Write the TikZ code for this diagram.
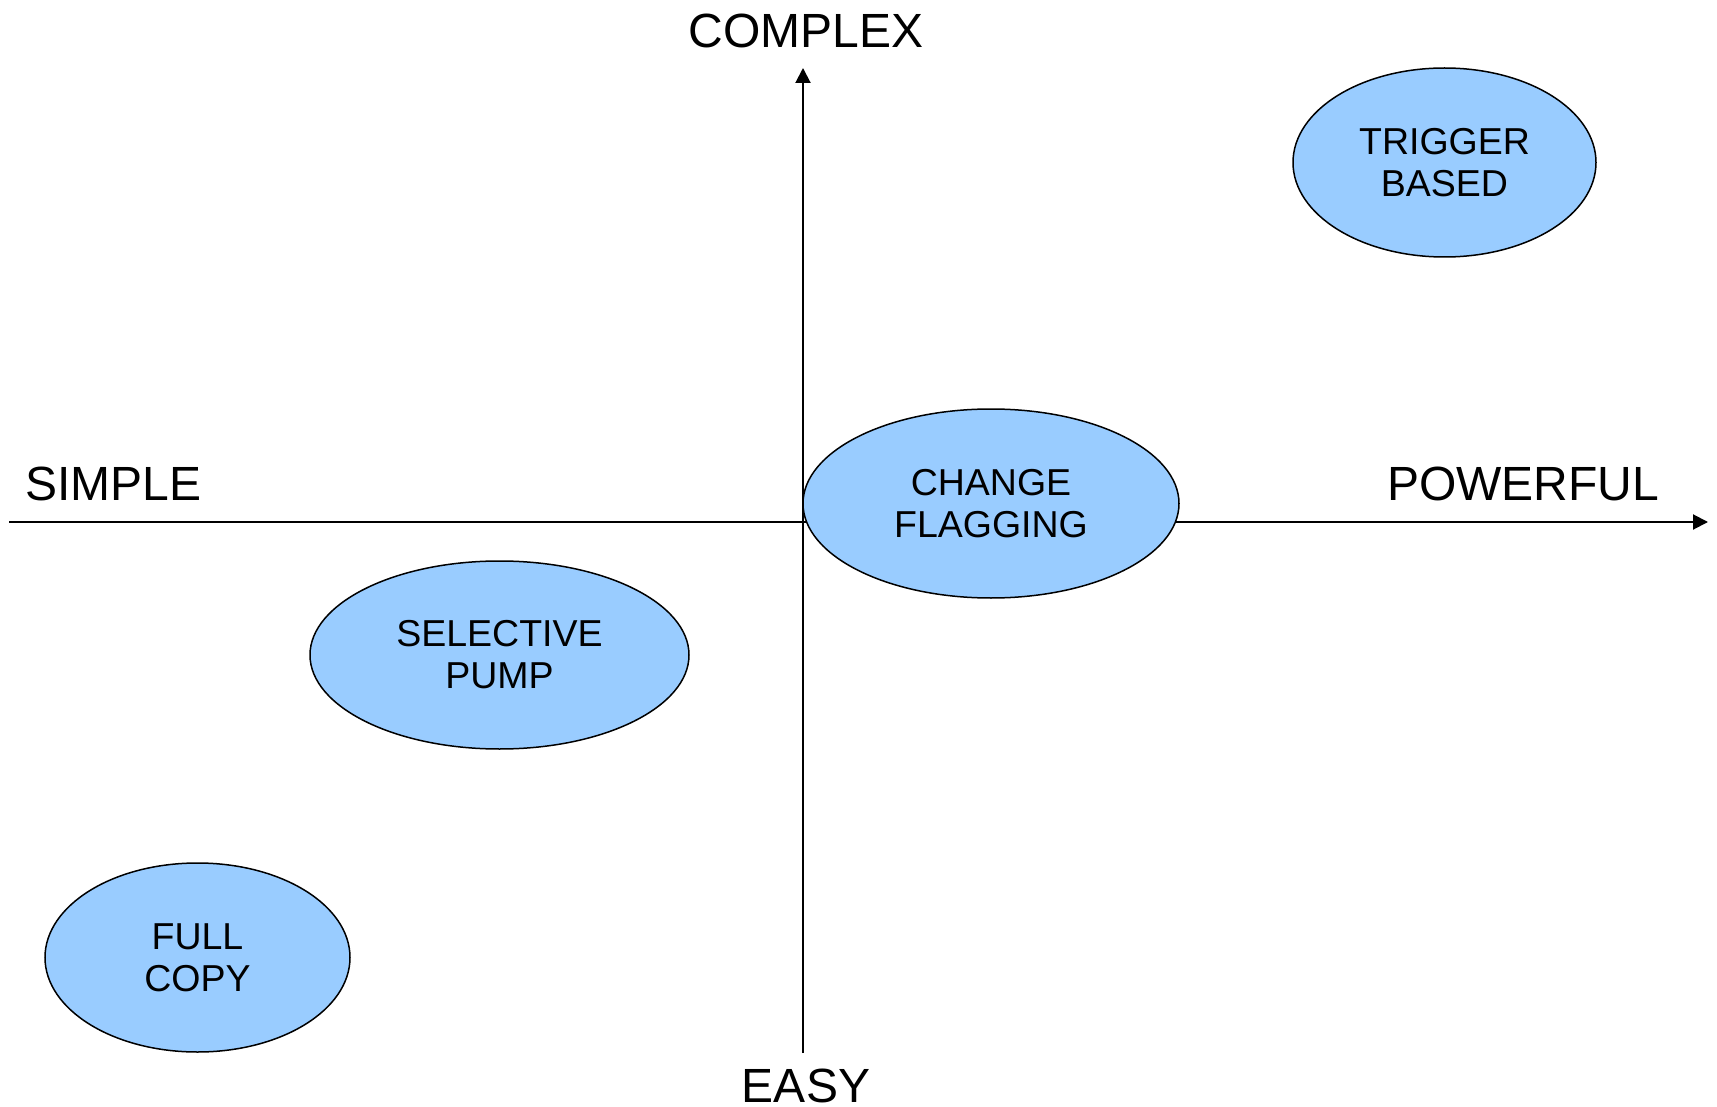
\documentclass[tikz,border=0pt]{standalone}
\usepackage{fontspec}
\setmainfont{Liberation Sans}
\usetikzlibrary{shapes.geometric,arrows.meta}
\definecolor{blobblue}{HTML}{99CCFF}

\begin{document}
\begin{tikzpicture}[x=1pt,y=-1pt,
  axis/.style={line width=2pt, -{Triangle[length=15pt,width=15pt]}},
  blob/.style={ellipse, draw=black, line width=1.5pt, fill=blobblue,
    inner sep=0pt, align=center, font=\fontsize{37.5}{42}\selectfont},
  axislabel/.style={font=\fontsize{48}{54}\selectfont, inner sep=0pt}]

\useasboundingbox (0,0) rectangle (1717,1107);

% axis end points
\coordinate (xmin) at (9,522);
\coordinate (xmax) at (1708,522);
\coordinate (ymin) at (803,1053);
\coordinate (ymax) at (803,68);

\draw[axis] (xmin) -- (xmax);
\draw[axis] (ymin) -- (ymax);

% axis labels
\node[axislabel, anchor=base] (complex) at (806,48) {COMPLEX};
\node[axislabel, anchor=base] (easy) at (806,1102) {EASY};
\node[axislabel, anchor=base west] (simple) at (25,500) {SIMPLE};
\node[axislabel, anchor=base west] (powerful) at (1387,500) {POWERFUL};

% approaches
\node[blob, minimum width=303pt, minimum height=189pt] (trigger) at (1444.5,162.5) {TRIGGER\\BASED};
\node[blob, minimum width=376pt, minimum height=189pt] (change) at (991,503.5) {CHANGE\\FLAGGING};
\node[blob, minimum width=379pt, minimum height=188pt] (selective) at (499.5,655) {SELECTIVE\\PUMP};
\node[blob, minimum width=305pt, minimum height=189pt] (fullcopy) at (197.5,957.5) {FULL\\COPY};

\end{tikzpicture}
\end{document}
